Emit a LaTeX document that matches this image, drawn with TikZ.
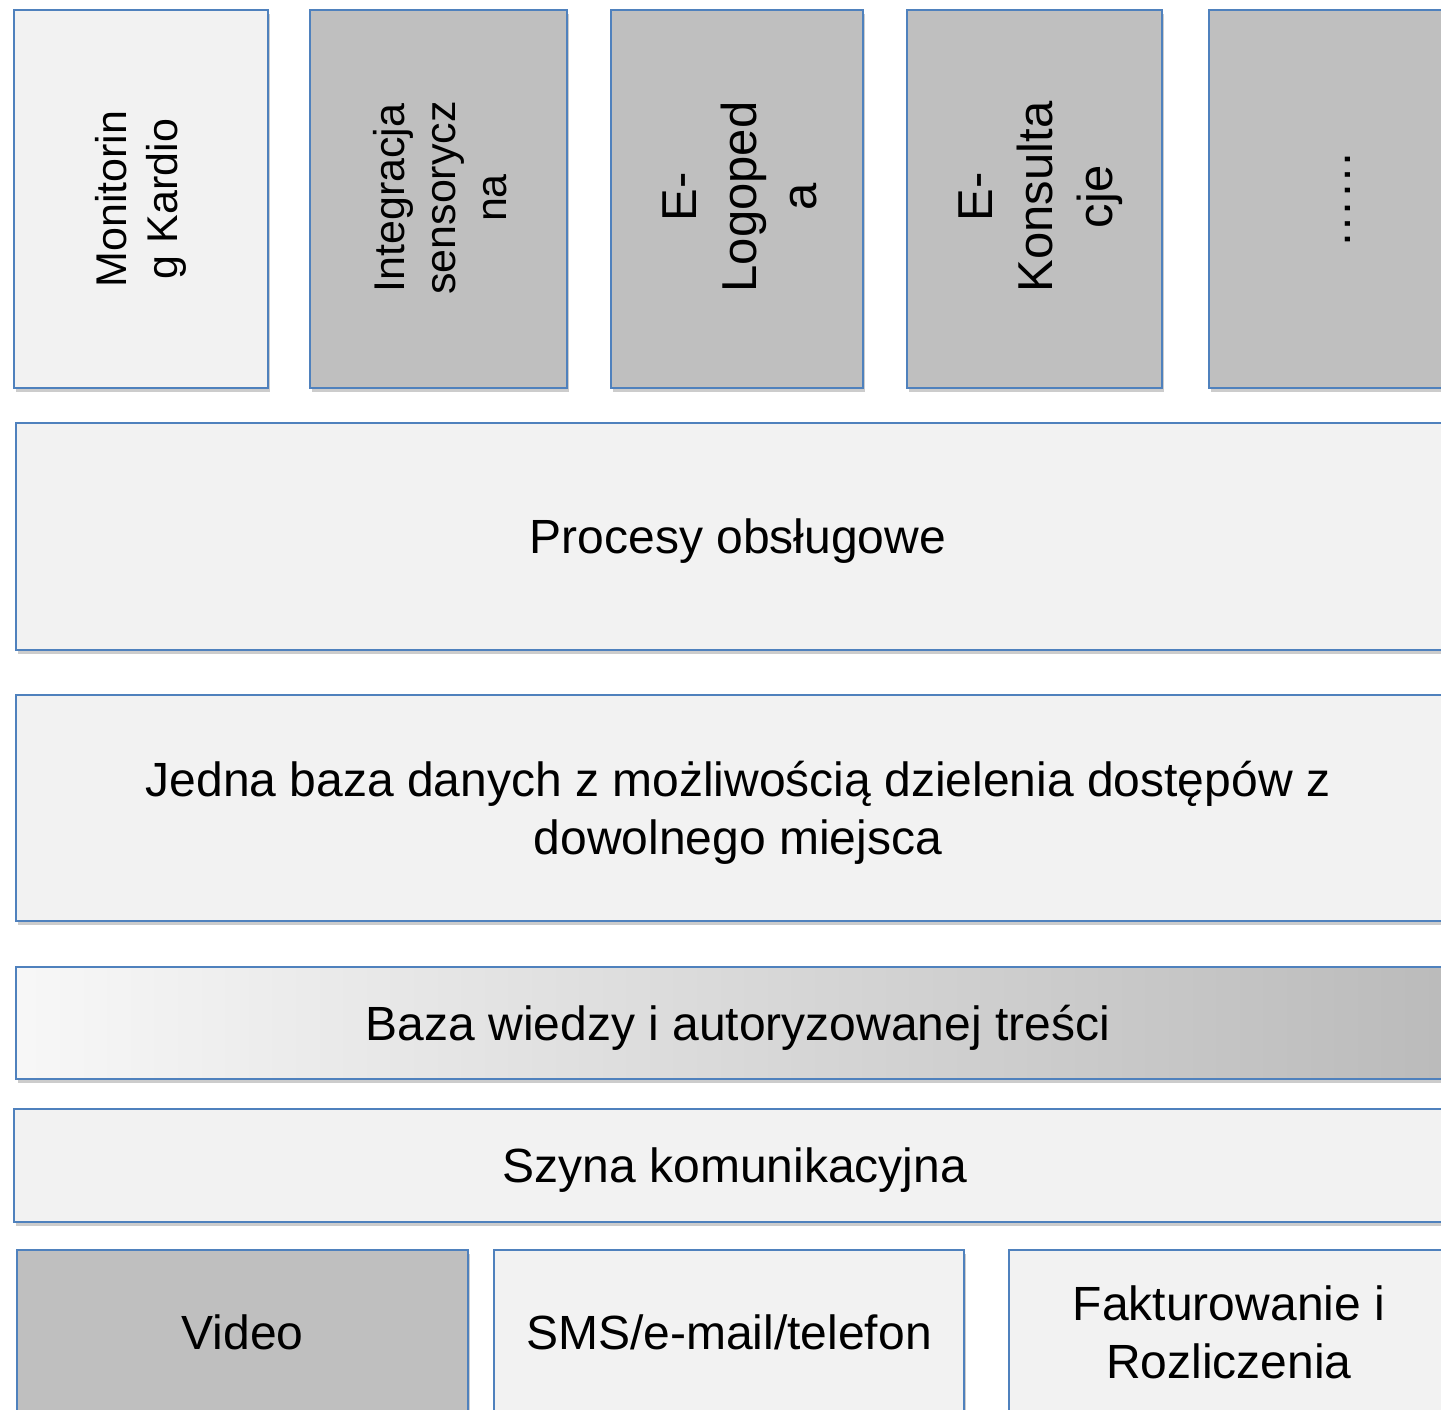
\documentclass[tikz,border=0pt]{standalone}
\usepackage{fontspec}
\setmainfont{Liberation Sans}
\usetikzlibrary{shadows}

\definecolor{boxblue}{HTML}{4F81BD}
\definecolor{boxlight}{HTML}{F2F2F2}
\definecolor{boxdark}{HTML}{BFBFBF}

\tikzset{
	boxsize/.style 2 args={minimum width=#1*0.5pt, minimum height=#2*0.5pt},
	box/.style={draw=boxblue, line width=1pt, inner sep=0pt,
		drop shadow={shadow xshift=0.8pt, shadow yshift=-1.8pt, opacity=0.4}},
	lightbox/.style={box, fill=boxlight},
	darkbox/.style={box, fill=boxdark},
	boxtext/.style={align=center, font=\fontsize{24}{29}\selectfont},
	layertext/.style={boxtext, text depth=-1pt},
	sidetext/.style={align=center, rotate=90, font=\fontsize{21.5}{25.5}\selectfont},
	bigsidetext/.style={sidetext, font=\fontsize{24.5}{30}\selectfont},
}

\begin{document}
\begin{tikzpicture}[x=0.5pt, y=-0.5pt]
	\path[use as bounding box] (0,0) rectangle (1441,1409);
	\clip (0,0) rectangle (1441,1409);

	% services
	\node[lightbox, boxsize={254}{378}] (kardio) at (141,199) {};
	\node[darkbox, boxsize={257}{378}] (sensor) at (438.5,199) {};
	\node[darkbox, boxsize={252}{378}] (logoped) at (737,199) {};
	\node[darkbox, boxsize={255}{378}] (konsult) at (1034.5,199) {};
	\node[darkbox, boxsize={278}{378}] (more) at (1348,199) {};

	\node[sidetext] (kardio-t) at (kardio) {Monitorin\\g Kardio};
	\node[sidetext] (sensor-t) at (440,198) {Integracja\\sensorycz\\na};
	\node[bigsidetext] (logoped-t) at (740,197) {E-\\Logoped\\a};
	\node[bigsidetext] (konsult-t) at (1041,197) {E-\\Konsulta\\cje};
	\node[bigsidetext] (more-t) at (more) {……};

	% layers
	\node[lightbox, boxsize={1444}{227}, layertext] (procesy) at (738,536.5) {Procesy obsługowe};
	\node[lightbox, boxsize={1444}{226}, layertext] (baza) at (738,808)
		{Jedna baza danych z możliwością dzielenia dostępów z\\dowolnego miejsca};
	\node[box, boxsize={1444}{112}, layertext, left color=white!97!black, middle color=boxlight,
		right color=black!27] (wiedza) at (738,1023) {Baza wiedzy i autoryzowanej treści};
	\node[lightbox, boxsize={1442}{113}, layertext] (szyna) at (735,1165.5) {Szyna komunikacyjna};

	% channels
	\node[darkbox, boxsize={451}{164}, boxtext] (video) at (242.5,1332) {Video};
	\node[lightbox, boxsize={470}{164}, boxtext] (sms) at (729,1332) {SMS/e-mail/telefon};
	\node[lightbox, boxsize={440}{164}, boxtext] (faktury) at (1229,1332) {Fakturowanie i\\Rozliczenia};
\end{tikzpicture}
\end{document}
